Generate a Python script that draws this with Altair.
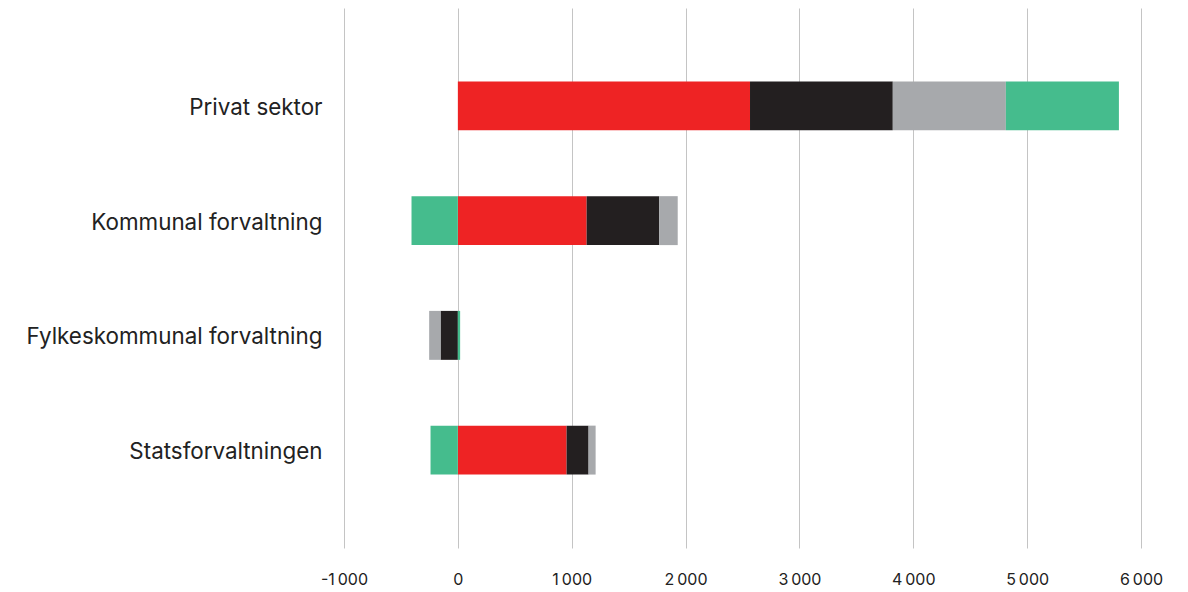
import altair as alt
import pandas as pd

categories = ["Privat sektor", "Kommunal forvaltning", "Fylkeskommunal forvaltning", "Statsforvaltningen"]
series = ["Serie 1", "Serie 2", "Serie 3", "Serie 4"]
colors = ["#EE2324", "#231F20", "#A7A9AC", "#45BC8D"]

serie1 = [2566, 1131, 0, 955]
serie2 = [1254, 638, -152, 193]
serie3 = [993, 162, -100, 62]
serie4 = [993, -407, 20, -240]

values = [serie1, serie2, serie3, serie4]
rows = []
for si, (s, vals) in enumerate(zip(series, values)):
    for c, v in zip(categories, vals):
        rows.append({"kategori": c, "serie": s, "verdi": v, "rekkefolge": si})
df = pd.DataFrame(rows)

FONT = "Inter"

chart = (
    alt.Chart(df)
    .mark_bar()
    .encode(
        y=alt.Y(
            "kategori:N",
            sort=categories,
            title=None,
            scale=alt.Scale(paddingInner=0.5735, paddingOuter=0.64),
            axis=alt.Axis(
                ticks=False,
                domain=False,
                grid=False,
                labelPadding=22,
                labelFontSize=22.4,
                labelFont=FONT,
                labelColor="#222222",
                labelLimit=400,
                labelOffset=2,
            ),
        ),
        x=alt.X(
            "verdi:Q",
            stack="zero",
            title=None,
            scale=alt.Scale(domain=[-1000, 6000], nice=False),
            axis=alt.Axis(
                values=[-1000, 0, 1000, 2000, 3000, 4000, 5000, 6000],
                labelExpr="replace(replace(format(datum.value, ','), ',', '\u2009'), '\u2212', '-')",
                labelFlush=False,
                labelOverlap=False,
                ticks=False,
                domain=False,
                grid=True,
                gridColor="#c4c4c4",
                gridWidth=1,
                labelPadding=23,
                labelFontSize=16,
                labelFont=FONT,
                labelColor="#222222",
            ),
        ),
        color=alt.Color(
            "serie:N",
            scale=alt.Scale(domain=series, range=colors),
            legend=None,
        ),
        order=alt.Order("rekkefolge:Q", sort="ascending"),
    )
    .properties(
        width=797,
        height=540,
        autosize=alt.AutoSizeParams(type="none"),
        padding={"left": 336, "top": 0, "right": 30, "bottom": 40},
    )
    .configure_view(stroke=None)
)

chart.save("out.html", embed_options={"renderer": "svg", "actions": False})
